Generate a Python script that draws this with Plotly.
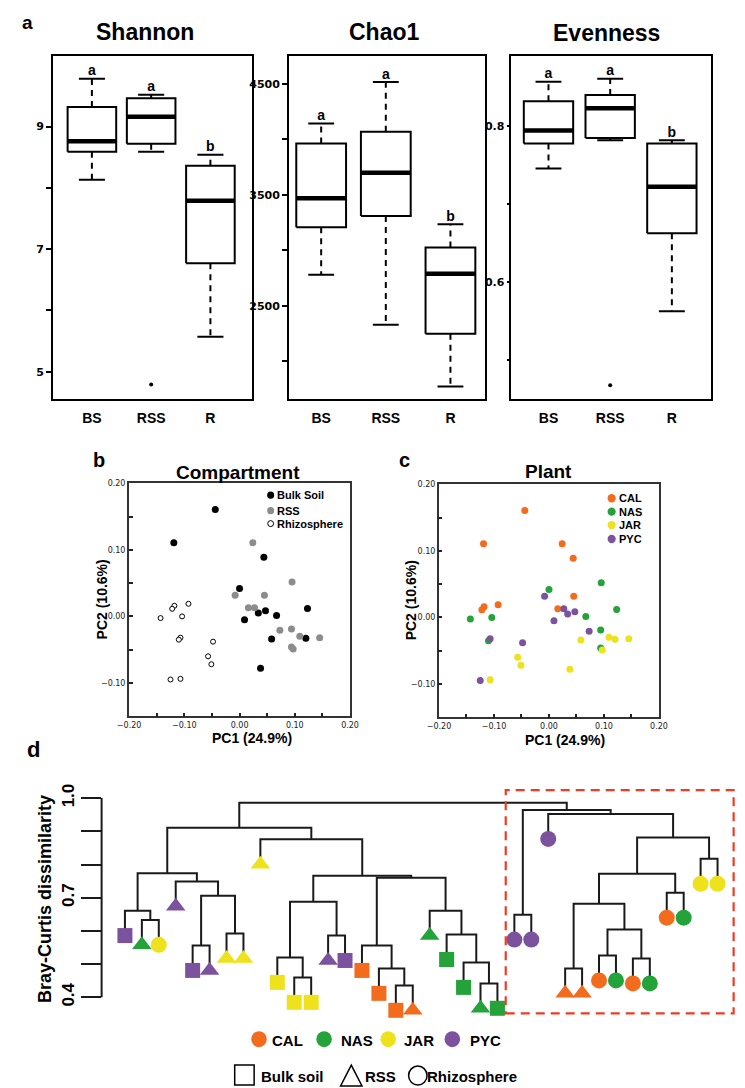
import plotly.graph_objects as go

# The page puts the plot 8 px in from the top-left corner; all layout positions
# below are given in page pixels and converted with that offset.
PAGE_W, PAGE_H = 745, 1088
OFF = 8
W, H = PAGE_W - OFF, PAGE_H - OFF

# ---------------- panel a: alpha diversity (box statistics) ----------------
groups = ["BS", "RSS", "R"]

shannon_lower = [8.13, 8.59, 5.57]
shannon_q1 = [8.59, 8.72, 6.77]
shannon_median = [8.76, 9.16, 7.79]
shannon_q3 = [9.32, 9.46, 8.36]
shannon_upper = [9.78, 9.52, 8.54]
shannon_outliers = [[], [4.79], []]
shannon_letters = ["a", "a", "b"]

chao1_lower = [2781, 2330, 1774]
chao1_q1 = [3209, 3310, 2249]
chao1_median = [3469, 3699, 2789]
chao1_q3 = [3962, 4067, 3026]
chao1_upper = [4141, 4515, 3235]
chao1_outliers = [[], [], []]
chao1_letters = ["a", "a", "b"]

even_lower = [0.746, 0.782, 0.563]
even_q1 = [0.778, 0.785, 0.663]
even_median = [0.7945, 0.823, 0.7226]
even_q3 = [0.832, 0.840, 0.778]
even_upper = [0.857, 0.861, 0.782]
even_outliers = [[], [0.468], []]
even_letters = ["a", "a", "b"]

# ---------------- panels b, c: PCoA ----------------
pc1 = [-0.044, -0.119, 0.044, 0.000, 0.123, 0.047, 0.034, 0.067, 0.009, 0.058, 0.120, 0.038,
       0.024, 0.095, -0.008, 0.045, 0.016, 0.027, 0.073, 0.094, 0.109, 0.145, 0.094, 0.097,
       -0.0925, -0.118, -0.122, -0.104, -0.143, -0.107, -0.110, -0.048, -0.057, -0.051, -0.125, -0.107]
pc2 = [0.161, 0.111, 0.089, 0.042, 0.012, 0.0085, 0.005, 0.0015, -0.005, -0.034, -0.033, -0.078,
       0.111, 0.052, 0.032, 0.032, 0.013, 0.013, -0.021, -0.019, -0.030, -0.032, -0.046, -0.049,
       0.019, 0.016, 0.0115, 0.0, -0.0025, -0.032, -0.035, -0.038, -0.060, -0.072, -0.095, -0.094]
sample_compartment = ["Bulk Soil", "Bulk Soil", "Bulk Soil", "Bulk Soil", "Bulk Soil", "Bulk Soil",
                      "Bulk Soil", "Bulk Soil", "Bulk Soil", "Bulk Soil", "Bulk Soil", "Bulk Soil",
                      "RSS", "RSS", "RSS", "RSS", "RSS", "RSS", "RSS", "RSS", "RSS", "RSS", "RSS", "RSS",
                      "Rhizosphere", "Rhizosphere", "Rhizosphere", "Rhizosphere", "Rhizosphere", "Rhizosphere",
                      "Rhizosphere", "Rhizosphere", "Rhizosphere", "Rhizosphere", "Rhizosphere", "Rhizosphere"]
sample_plant = ["CAL", "CAL", "CAL", "NAS", "NAS", "PYC", "PYC", "NAS", "PYC", "JAR", "JAR", "JAR",
                "CAL", "NAS", "PYC", "CAL", "CAL", "PYC", "PYC", "NAS", "JAR", "JAR", "NAS", "JAR",
                "CAL", "CAL", "CAL", "NAS", "NAS", "PYC", "NAS", "PYC", "JAR", "JAR", "PYC", "JAR"]
compartments = ["Bulk Soil", "RSS", "Rhizosphere"]
plants = ["CAL", "NAS", "JAR", "PYC"]

# ---------------- panel d: dendrogram ----------------
leaf_plant = ["PYC", "NAS", "JAR", "PYC", "PYC", "PYC", "JAR", "JAR", "JAR", "JAR", "JAR", "JAR",
              "PYC", "PYC", "CAL", "CAL", "CAL", "CAL", "NAS", "NAS", "NAS", "NAS", "NAS",
              "PYC", "PYC", "PYC", "CAL", "CAL", "CAL", "NAS", "CAL", "NAS", "CAL", "NAS", "JAR", "JAR"]
leaf_compartment = ["Bulk soil", "RSS", "Rhizosphere", "RSS", "Bulk soil", "RSS", "RSS", "RSS", "RSS",
                    "Bulk soil", "Bulk soil", "Bulk soil", "RSS", "Bulk soil", "Bulk soil", "Bulk soil",
                    "Bulk soil", "RSS", "RSS", "Bulk soil", "Bulk soil", "RSS", "Bulk soil",
                    "Rhizosphere", "Rhizosphere", "Rhizosphere", "RSS", "RSS", "Rhizosphere", "Rhizosphere",
                    "Rhizosphere", "Rhizosphere", "Rhizosphere", "Rhizosphere", "Rhizosphere", "Rhizosphere"]
merge_left = [1, 0, 4, 6, 38, 3, 37, 10, 9, 12, 44, 16, 15, 14, 21, 20, 19, 18, 49, 46, 8, 42,
              23, 34, 32, 26, 28, 30, 62, 61, 65, 66, 25, 58, 57]
merge_right = [2, 36, 5, 7, 39, 40, 41, 11, 43, 13, 45, 17, 47, 48, 22, 50, 51, 52, 53, 54, 55, 56,
               24, 35, 33, 27, 29, 31, 63, 64, 60, 59, 67, 68, 69]
merge_height = [0.633, 0.661, 0.556, 0.592, 0.706, 0.749, 0.774, 0.460, 0.520, 0.586, 0.688, 0.436,
                0.487, 0.556, 0.442, 0.505, 0.589, 0.661, 0.760, 0.766, 0.876, 0.911,
                0.649, 0.817, 0.715, 0.487, 0.526, 0.517, 0.604, 0.682, 0.772, 0.881, 0.952, 0.964, 0.986]
leaf_hang = 0.075

plant_colors = {"CAL": "#F36B1C", "NAS": "#23A33A", "JAR": "#EEE21C", "PYC": "#7C529F"}
comp_symbols = {"Bulk soil": "square", "RSS": "triangle-up", "Rhizosphere": "circle"}
comp_sizes = {"Bulk soil": 15, "RSS": 17, "Rhizosphere": 16}

FONT = "Liberation Sans, Arial, sans-serif"


def px_x(p):
    return (p - OFF) / W


def px_y(p):
    return 1 - (p - OFF) / H


def dom_x(a, b):
    return [px_x(a), px_x(b)]


def dom_y(top, bottom):
    return [px_y(bottom), px_y(top)]


fig = go.Figure()


def add_boxplot(n, lower, q1, med, q3, upper, outliers, letters, half=0.41, cap=0.22):
    xa, ya = f"x{n}", f"y{n}"
    xs = [1, 2, 3]
    wx, wy, cx, cy = [], [], [], []
    for c, lo, a, b, hi in zip(xs, lower, q1, q3, upper):
        wx += [c, c, None, c, c, None]
        wy += [b, hi, None, a, lo, None]
        cx += [c - cap, c + cap, None, c - cap, c + cap, None]
        cy += [hi, hi, None, lo, lo, None]
    fig.add_trace(go.Scatter(x=wx, y=wy, mode="lines", xaxis=xa, yaxis=ya,
                             line=dict(color="black", width=2, dash="6px,5px"), hoverinfo="skip"))
    fig.add_trace(go.Scatter(x=cx, y=cy, mode="lines", xaxis=xa, yaxis=ya,
                             line=dict(color="black", width=2), hoverinfo="skip"))
    bx, by, mx, my = [], [], [], []
    for c, a, m, b in zip(xs, q1, med, q3):
        bx += [c - half, c + half, c + half, c - half, c - half, None]
        by += [a, a, b, b, a, None]
        mx += [c - half, c + half, None]
        my += [m, m, None]
    fig.add_trace(go.Scatter(x=bx, y=by, mode="lines", xaxis=xa, yaxis=ya, fill="toself",
                             fillcolor="white", line=dict(color="black", width=2), hoverinfo="skip"))
    fig.add_trace(go.Scatter(x=mx, y=my, mode="lines", xaxis=xa, yaxis=ya,
                             line=dict(color="black", width=4.5), hoverinfo="skip"))
    ox, oy = [], []
    for c, outs in zip(xs, outliers):
        for v in outs:
            ox.append(c)
            oy.append(v)
    if ox:
        fig.add_trace(go.Scatter(x=ox, y=oy, mode="markers", xaxis=xa, yaxis=ya,
                                 marker=dict(color="black", size=4), hoverinfo="skip"))
    fig.add_trace(go.Scatter(x=xs, y=upper, text=letters, mode="text", textposition="top center",
                             xaxis=xa, yaxis=ya, cliponaxis=False,
                             textfont=dict(family=FONT, size=14, color="black", weight="bold"),
                             hoverinfo="skip"))


add_boxplot(1, shannon_lower, shannon_q1, shannon_median, shannon_q3, shannon_upper,
            shannon_outliers, shannon_letters)
add_boxplot(2, chao1_lower, chao1_q1, chao1_median, chao1_q3, chao1_upper,
            chao1_outliers, chao1_letters, half=0.385, cap=0.2)
add_boxplot(3, even_lower, even_q1, even_median, even_q3, even_upper,
            even_outliers, even_letters, half=0.4, cap=0.21)

# ---------- panel b ----------
b_style = {
    "Bulk Soil": dict(color="black", size=7, line=dict(width=0)),
    "RSS": dict(color="#8c8c8c", size=7, line=dict(width=0)),
    "Rhizosphere": dict(color="white", size=5, line=dict(color="black", width=1)),
}
for comp in compartments:
    xs = [x for x, c in zip(pc1, sample_compartment) if c == comp]
    ys = [y for y, c in zip(pc2, sample_compartment) if c == comp]
    fig.add_trace(go.Scatter(x=xs, y=ys, mode="markers", xaxis="x4", yaxis="y4",
                             marker=b_style[comp], name=comp))

# ---------- panel c ----------
for pl in plants:
    xs = [x for x, p in zip(pc1, sample_plant) if p == pl]
    ys = [y for y, p in zip(pc2, sample_plant) if p == pl]
    fig.add_trace(go.Scatter(x=xs, y=ys, mode="markers", xaxis="x5", yaxis="y5",
                             marker=dict(color=plant_colors[pl], size=7), name=pl))

# ---------- panel d: dendrogram ----------
n_leaves = len(leaf_plant)
node_x = {i: i + 1 for i in range(n_leaves)}
node_h = {}
seg_x, seg_y = [], []
leaf_y = [None] * n_leaves
for k, (a, b, h) in enumerate(zip(merge_left, merge_right, merge_height)):
    nid = n_leaves + k
    for child in (a, b):
        if child < n_leaves:
            leaf_y[child] = h - leaf_hang
    ya_ = node_h.get(a, h - leaf_hang)
    yb_ = node_h.get(b, h - leaf_hang)
    seg_x += [node_x[a], node_x[a], node_x[b], node_x[b], None]
    seg_y += [ya_, h, h, yb_, None]
    node_x[nid] = (node_x[a] + node_x[b]) / 2
    node_h[nid] = h

fig.add_trace(go.Scatter(x=seg_x, y=seg_y, mode="lines", xaxis="x6", yaxis="y6",
                         line=dict(color="#1a1a1a", width=2), hoverinfo="skip"))
fig.add_trace(go.Scatter(
    x=[i + 1 for i in range(n_leaves)], y=leaf_y, mode="markers", xaxis="x6", yaxis="y6",
    cliponaxis=False,
    marker=dict(color=[plant_colors[p] for p in leaf_plant],
                symbol=[comp_symbols[c] for c in leaf_compartment],
                size=[comp_sizes[c] for c in leaf_compartment],
                opacity=1, line=dict(width=0)),
    hoverinfo="skip"))

# ---------------- axes ----------------
box_x = dict(tickvals=[1, 2, 3], ticktext=[f"<b>{g}</b>" for g in groups], ticks="outside",
             ticklen=6, tickcolor="rgba(0,0,0,0)", showline=True, mirror=True, linecolor="black",
             linewidth=2, showgrid=False, zeroline=False,
             tickfont=dict(family=FONT, size=14, color="black"))
box_y = dict(ticks="outside", ticklen=5, tickwidth=2, tickcolor="black", showline=True, mirror=True,
             linecolor="black", linewidth=2, showgrid=False, zeroline=False,
             tickfont=dict(family="DejaVu Sans", size=11, color="black", weight="bold"))

pca_x = dict(range=[-0.2005, 0.2005], tickvals=[-0.2, -0.1, 0, 0.1, 0.2],
             ticktext=["\u22120.20", "\u22120.10", "0.00", "0.10", "0.20"],
             ticks="inside", ticklen=4, tickwidth=1.5, tickcolor="#222",
             minor=dict(tickvals=[-0.15, -0.05, 0.05, 0.15], ticks="inside", ticklen=4,
                        tickwidth=1.5, tickcolor="#222"),
             showline=True, mirror=True, linecolor="#333", linewidth=1.5, showgrid=False,
             zeroline=False, tickfont=dict(family="DejaVu Sans", size=8, color="#222"))
pca_y = dict(range=[-0.1505, 0.2005], tickvals=[-0.1, 0, 0.1, 0.2],
             ticktext=["\u22120.10", "0.00", "0.10", "0.20"],
             ticks="inside", ticklen=4, tickwidth=1.5, tickcolor="#222",
             minor=dict(tickvals=[-0.05, 0.05, 0.15], ticks="inside", ticklen=4,
                        tickwidth=1.5, tickcolor="#222"),
             showline=True, mirror=True, linecolor="#333", linewidth=1.5, showgrid=False,
             zeroline=False, tickfont=dict(family="DejaVu Sans", size=8, color="#222"))

layout = dict(
    width=W, height=H, margin=dict(l=0, r=0, t=0, b=0),
    paper_bgcolor="white", plot_bgcolor="white", showlegend=False,
    font=dict(family=FONT, color="black"),
    xaxis=dict(domain=dom_x(42, 247), range=[0.344, 3.705], anchor="y", **box_x),
    yaxis=dict(domain=dom_y(52, 396), range=[4.561, 10.154], anchor="x",
               tickvals=[5, 6, 7, 8, 9], ticktext=["5", "", "7", "", "9"], **box_y),
    xaxis2=dict(domain=dom_x(285, 487), range=[0.504, 3.54], anchor="y2", **box_x),
    yaxis2=dict(domain=dom_y(52, 396), range=[1666, 4751], anchor="x2",
                tickvals=[2000, 2500, 3000, 3500, 4000, 4500],
                ticktext=["", "2500", "", "3500", "", "4500"], **box_y),
    xaxis3=dict(domain=dom_x(513, 719), range=[0.386, 3.63], anchor="y3", **box_x),
    yaxis3=dict(domain=dom_y(52, 396), range=[0.451, 0.8903], anchor="x3",
                tickvals=[0.5, 0.6, 0.7, 0.8], ticktext=["", "0.6", "", "0.8"], **box_y),
    xaxis4=dict(domain=dom_x(120, 348), anchor="y4", **pca_x),
    yaxis4=dict(domain=dom_y(481, 715), anchor="x4", **pca_y),
    xaxis5=dict(domain=dom_x(439, 666), anchor="y5", **pca_x),
    yaxis5=dict(domain=dom_y(482, 716), anchor="x5", **pca_y),
    xaxis6=dict(domain=dom_x(92, 745), range=[-0.377, 37.09], anchor="y6", visible=False),
    yaxis6=dict(domain=dom_y(785, 1016), range=[0.343, 1.036], anchor="x6",
                tickvals=[0.4, 0.5, 0.6, 0.7, 0.8, 0.9, 1.0],
                ticktext=["<b>0.4</b>", "", "", "<b>0.7</b>", "", "", "<b>1.0</b>"],
                tickangle=-90, ticks="outside", ticklen=20, tickwidth=2, tickcolor="#1a1a1a",
                showline=False, showgrid=False, zeroline=False,
                tickfont=dict(family=FONT, size=17, color="black")),
)
fig.update_layout(**layout)
fig.update_yaxes(ticklen=2, selector=dict(anchor="x3"))

# ---------------- shapes: spine, highlight box, legend keys ----------------
shapes = [
    dict(type="line", xref="x6 domain", yref="y6", x0=0, x1=0, y0=0.4, y1=1.0,
         line=dict(color="#1a1a1a", width=2)),
    dict(type="rect", xref="x6", yref="y6", x0=23.49, x1=36.95, y0=0.352, y1=1.024,
         line=dict(color="#EE3B24", width=2.2, dash="9px,6px"), fillcolor="rgba(0,0,0,0)"),
]


def circ(cx, cy, r, fill, lc, lw):
    return dict(type="circle", xref="paper", yref="paper", x0=px_x(cx - r), x1=px_x(cx + r),
                y0=px_y(cy + r), y1=px_y(cy - r), fillcolor=fill, line=dict(color=lc, width=lw))


annotations = []


def ann(text, x, y, size, xanchor="center", angle=0, bold=True, color="black", family=FONT):
    annotations.append(dict(text=f"<b>{text}</b>" if bold else text, x=px_x(x), y=px_y(y),
                            xref="paper", yref="paper", xanchor=xanchor, yanchor="middle",
                            showarrow=False, textangle=angle, borderpad=0,
                            font=dict(size=size, family=family, color=color)))


# legend b
shapes.append(circ(266, 493, 3.6, "black", "black", 0))
shapes.append(circ(266, 508.5, 3.6, "#8c8c8c", "#8c8c8c", 0))
shapes.append(circ(266, 521.5, 3.0, "white", "black", 1))
for label, yy in zip(compartments, [493, 508.5, 521.5]):
    ann(label, 272, yy, 11, xanchor="left")

# legend c
for pl, yy in zip(plants, [496, 509.5, 523, 537]):
    shapes.append(circ(617, yy, 4.2, plant_colors[pl], plant_colors[pl], 0))
    ann(pl, 624, yy, 11, xanchor="left")

# legend d, colours
for pl, cx, tx in zip(plants, [254, 321, 387, 453], [266, 337, 402, 470]):
    shapes.append(circ(cx, 1039, 8, plant_colors[pl], plant_colors[pl], 0))
    ann(pl, tx, 1040, 15, xanchor="left")

# legend d, shapes
shapes.append(dict(type="rect", xref="paper", yref="paper", x0=px_x(229), x1=px_x(249),
                   y0=px_y(1085), y1=px_y(1065), line=dict(color="black", width=1.5)))
shapes.append(dict(type="path", xref="paper", yref="paper",
                   path=f"M {px_x(338)},{px_y(1086)} L {px_x(360)},{px_y(1086)} "
                        f"L {px_x(349)},{px_y(1065)} Z",
                   line=dict(color="black", width=1.5)))
shapes.append(circ(417.5, 1075.5, 9.5, "rgba(0,0,0,0)", "black", 1.5))
ann("Bulk soil", 255, 1076, 15, xanchor="left")
ann("RSS", 362, 1076, 15, xanchor="left")
ann("Rhizosphere", 426, 1076, 15, xanchor="left")

# titles and labels
ann("a", 9, 19, 19, xanchor="left")
ann("Shannon", 137, 28, 23)
ann("Chao1", 383, 28, 23)
ann("Evenness", 612, 29, 23)
ann("b", 89, 458, 20)
ann("Compartment", 232, 470, 19)
ann("c", 404, 458, 20)
ann("Plant", 552, 469, 19)
ann("PC1 (24.9%)", 247, 737, 14)
ann("PC1 (24.9%)", 569, 739, 14)
ann("PC2 (10.6%)", 92, 598, 14, angle=-90)
ann("PC2 (10.6%)", 410, 599, 14, angle=-90)
ann("d", 22, 748, 22)
ann("Bray-Curtis dissimilarity", 33, 898, 18, angle=-90)

fig.update_layout(shapes=shapes, annotations=annotations)
fig.write_html("out.html")
